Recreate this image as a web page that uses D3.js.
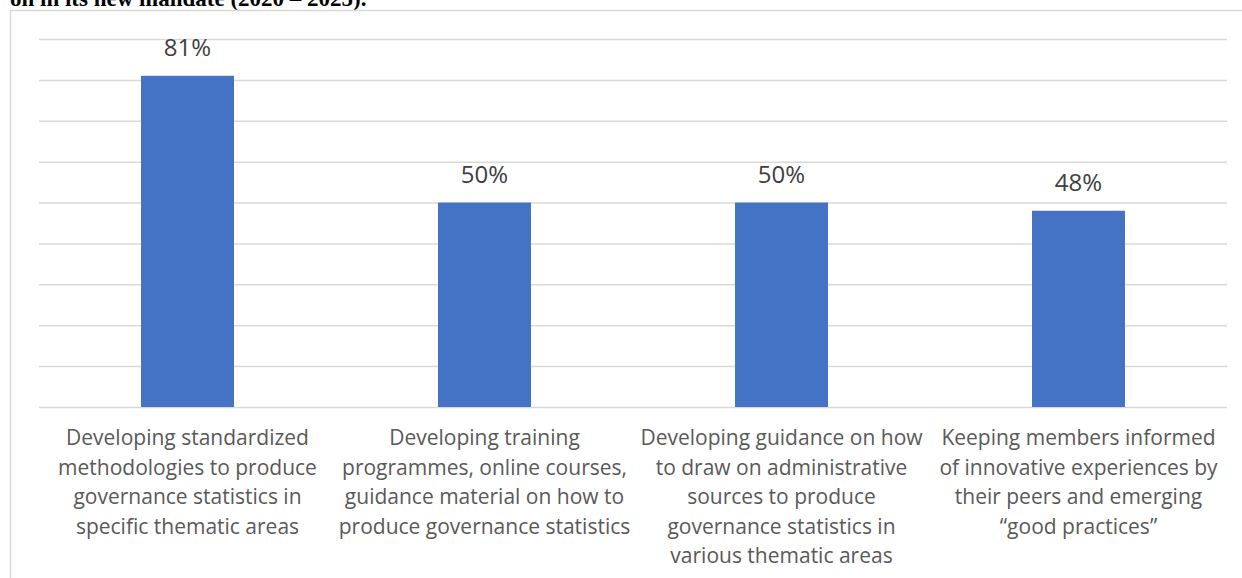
<!DOCTYPE html>
<html>
<head>
<meta charset="utf-8">
<script src="https://cdn.jsdelivr.net/npm/d3@7"></script>
<style>
  body { margin: 0; background: #fff; }
  svg { display: block; }
</style>
</head>
<body>
<div id="chart"></div>
<script>
// data
const categories = [
  ["Developing standardized", "methodologies to produce", "governance statistics in", "specific thematic areas"],
  ["Developing training", "programmes, online courses,", "guidance material on how to", "produce governance statistics"],
  ["Developing guidance on how", "to draw on administrative", "sources to produce", "governance statistics in", "various thematic areas"],
  ["Keeping members informed", "of innovative experiences by", "their peers and emerging", "\u201Cgood practices\u201D"]
];
const values = [81, 50, 50, 48];
const yTicks = [0, 10, 20, 30, 40, 50, 60, 70, 80, 90];
const titleText = "on in its new mandate (2020 \u2013 2025).";

const W = 1242, H = 578;
const margin = { top: 39, right: 15, bottom: 171, left: 39 };
const width = W - margin.left - margin.right,
      height = H - margin.top - margin.bottom;

const svg = d3.select("#chart").append("svg")
  .attr("width", W)
  .attr("height", H);

// clipped heading from the surrounding document
svg.append("text")
  .attr("x", 10)
  .attr("y", 6)
  .attr("font-family", "Liberation Serif, Times New Roman, serif")
  .attr("font-weight", "bold")
  .attr("font-size", 23)
  .attr("fill", "#000")
  .text(titleText);

// chart frame (left + top)
svg.append("path")
  .attr("d", `M10.5,${H} V10.5 H${W}`)
  .attr("fill", "none")
  .attr("stroke", "#d9d9d9")
  .attr("stroke-width", 1.5);

const g = svg.append("g")
  .attr("transform", `translate(${margin.left},${margin.top})`);

const x = d3.scaleBand()
  .domain(d3.range(values.length))
  .range([0, width])
  .paddingInner(0.687)
  .paddingOuter(0.3435);

const y = d3.scaleLinear()
  .domain([0, 90])
  .range([height, 0]);

// gridlines
g.append("g")
  .call(d3.axisLeft(y).tickValues(yTicks).tickSize(-width).tickFormat(""))
  .call(a => a.select(".domain").remove())
  .call(a => a.selectAll("line").attr("stroke", "#d9d9d9").attr("stroke-width", 1.5));

// bars
g.selectAll("rect.bar")
  .data(values)
  .join("rect")
  .attr("class", "bar")
  .attr("x", (d, i) => x(i))
  .attr("y", d => y(d))
  .attr("width", x.bandwidth())
  .attr("height", d => y(0) - y(d))
  .attr("fill", "#4472c4");

// data labels
g.selectAll("text.val")
  .data(values)
  .join("text")
  .attr("class", "val")
  .attr("x", (d, i) => x(i) + x.bandwidth() / 2)
  .attr("y", d => y(d) - 20)
  .attr("text-anchor", "middle")
  .attr("font-family", "Open Sans, sans-serif")
  .attr("font-size", 24)
  .attr("fill", "#404040")
  .text(d => d + "%");

// category labels
const cat = g.selectAll("text.cat")
  .data(categories)
  .join("text")
  .attr("class", "cat")
  .attr("text-anchor", "middle")
  .attr("font-family", "Open Sans, sans-serif")
  .attr("font-size", 21)
  .attr("fill", "#595959");

cat.selectAll("tspan")
  .data((d, i) => d.map(line => ({ line, i })))
  .join("tspan")
  .attr("x", d => x(d.i) + x.bandwidth() / 2)
  .attr("y", (d, j) => height + 38 + j * 29.6)
  .text(d => d.line);
</script>
</body>
</html>
